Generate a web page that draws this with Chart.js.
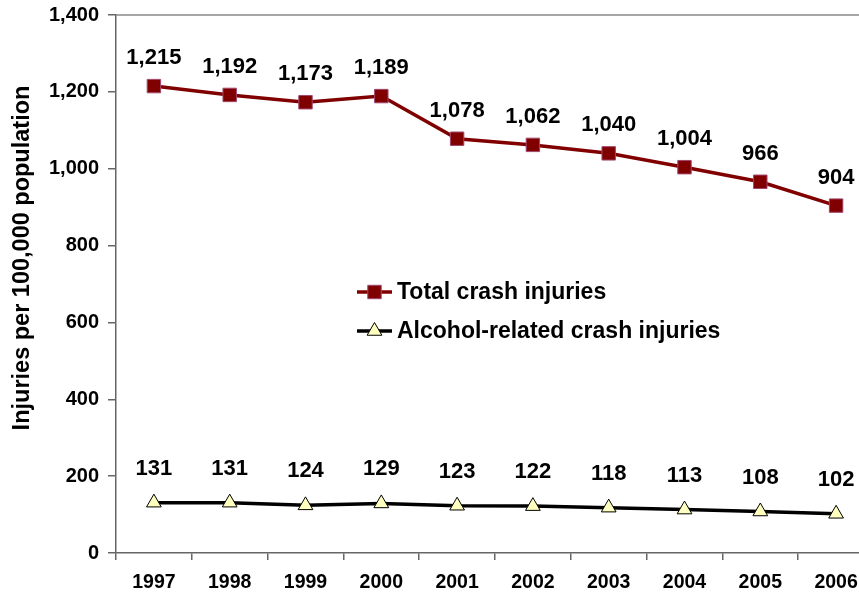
<!DOCTYPE html>
<html>
<head>
<meta charset="utf-8">
<script src="https://cdn.jsdelivr.net/npm/chart.js@4/dist/chart.umd.min.js"></script>
<style>
  html, body { margin: 0; padding: 0; background: #ffffff; overflow: hidden; }
  #wrap { width: 900px; height: 594px; }
</style>
</head>
<body>
<div id="wrap"><canvas id="c" width="900" height="594"></canvas></div>
<script>
const years = ['1997','1998','1999','2000','2001','2002','2003','2004','2005','2006'];
const totalInjuries = [1215, 1192, 1173, 1189, 1078, 1062, 1040, 1004, 966, 904];
const alcoholInjuries = [131, 131, 124, 129, 123, 122, 118, 113, 108, 102];
const seriesNames = ['Total crash injuries', 'Alcohol-related crash injuries'];
const yTitle = 'Injuries per 100,000 population';
const yMin = 0, yMax = 1400, yStep = 200;

const FONT = "'Liberation Sans', Arial, sans-serif";
const fmt = v => Number(v).toLocaleString('en-US');

const dataLabels = {
  id: 'dataLabels',
  afterDatasetsDraw(chart) {
    const ctx = chart.ctx;
    ctx.save();
    ctx.font = 'bold 22px ' + FONT;
    ctx.fillStyle = '#000';
    ctx.textAlign = 'center';
    ctx.textBaseline = 'middle';
    chart.data.datasets.forEach((ds, i) => {
      const meta = chart.getDatasetMeta(i);
      meta.data.forEach((pt, j) => {
        ctx.fillText(fmt(ds.data[j]), pt.x, pt.y - ds.labelOffset);
      });
    });
    ctx.restore();
  }
};

const topBorder = {
  id: 'topBorder',
  beforeDatasetsDraw(chart) {
    const {ctx, chartArea} = chart;
    ctx.save();
    ctx.strokeStyle = '#888';
    ctx.lineWidth = 1.5;
    ctx.beginPath();
    ctx.moveTo(chartArea.left, chartArea.top);
    ctx.lineTo(chartArea.right, chartArea.top);
    ctx.stroke();
    ctx.restore();
  }
};

const yTitlePlugin = {
  id: 'yTitlePlugin',
  afterDraw(chart) {
    const ctx = chart.ctx;
    ctx.save();
    ctx.translate(29, 258);
    ctx.rotate(-Math.PI / 2);
    ctx.font = 'bold 23.5px ' + FONT;
    ctx.fillStyle = '#000';
    ctx.textAlign = 'center';
    ctx.textBaseline = 'alphabetic';
    ctx.fillText(yTitle, 0, 0);
    ctx.restore();
  }
};

function drawMarker(ctx, style, r, x, y) {
  if (style === 'rect') {
    const s = Math.SQRT1_2 * r;
    ctx.rect(x - s, y - s, 2 * s, 2 * s);
  } else {
    const w = Math.sqrt(3) * r;
    ctx.moveTo(x, y - r);
    ctx.lineTo(x + w / 2, y + r / 2);
    ctx.lineTo(x - w / 2, y + r / 2);
    ctx.closePath();
  }
}

const innerLegend = {
  id: 'innerLegend',
  afterDraw(chart) {
    const {ctx, chartArea} = chart;
    const x0 = chartArea.left + 241;
    const rows = [chartArea.top + 277, chartArea.top + 316];
    ctx.save();
    chart.data.datasets.forEach((ds, i) => {
      const y = rows[i];
      ctx.strokeStyle = ds.borderColor;
      ctx.lineWidth = ds.borderWidth;
      ctx.beginPath();
      ctx.moveTo(x0, y);
      ctx.lineTo(x0 + 35, y);
      ctx.stroke();
      ctx.fillStyle = ds.pointBackgroundColor;
      ctx.strokeStyle = ds.pointBorderColor;
      ctx.lineWidth = ds.pointBorderWidth;
      ctx.beginPath();
      drawMarker(ctx, ds.pointStyle, ds.pointRadius, x0 + 17.5, y);
      ctx.fill();
      ctx.stroke();
      ctx.fillStyle = '#000';
      ctx.font = 'bold 23px ' + FONT;
      ctx.textAlign = 'left';
      ctx.textBaseline = 'middle';
      ctx.fillText(ds.label, x0 + 40, y + 1);
    });
    ctx.restore();
  }
};

new Chart(document.getElementById('c'), {
  type: 'line',
  data: {
    labels: years,
    datasets: [
      {
        label: seriesNames[0],
        data: totalInjuries,
        borderColor: '#800000',
        borderWidth: 3.5,
        pointStyle: 'rect',
        pointRadius: 9.5,
        pointHoverRadius: 9.5,
        pointBackgroundColor: '#800000',
        pointBorderColor: '#a0466e',
        pointBorderWidth: 1,
        tension: 0,
        labelOffset: 28
      },
      {
        label: seriesNames[1],
        data: alcoholInjuries,
        borderColor: '#000000',
        borderWidth: 3.5,
        pointStyle: 'triangle',
        pointRadius: 8.5,
        pointHoverRadius: 8.5,
        pointBackgroundColor: '#ffffc0',
        pointBorderColor: '#000000',
        pointBorderWidth: 1,
        tension: 0,
        labelOffset: 34
      }
    ]
  },
  options: {
    responsive: false,
    animation: false,
    layout: { padding: { top: 15, right: 26, left: 0, bottom: 0 } },
    plugins: {
      legend: { display: false },
      tooltip: { enabled: false },
      title: { display: false }
    },
    scales: {
      x: {
        offset: true,
        grid: { offset: true, drawOnChartArea: false, drawTicks: true, tickLength: 7, color: '#666', lineWidth: 1.5 },
        border: { display: true, color: '#666', width: 1.5 },
        ticks: { color: '#000', font: { family: FONT, size: 19.5, weight: 'bold' }, padding: 11, maxRotation: 0, autoSkip: false },
        afterFit(scale) { scale.height = 41; scale.paddingLeft = 0; scale.paddingRight = 0; }
      },
      y: {
        min: yMin,
        max: yMax,
        grid: { drawOnChartArea: false, drawTicks: true, tickLength: 8, color: '#666', lineWidth: 1.5 },
        border: { display: true, color: '#666', width: 1.5 },
        ticks: { stepSize: yStep, color: '#000', font: { family: FONT, size: 20, weight: 'bold' }, padding: 9, callback: v => fmt(v) },
        afterFit(scale) { scale.width = 116; scale.paddingTop = 0; scale.paddingBottom = 0; }
      }
    }
  },
  plugins: [topBorder, dataLabels, innerLegend, yTitlePlugin]
});
</script>
</body>
</html>
